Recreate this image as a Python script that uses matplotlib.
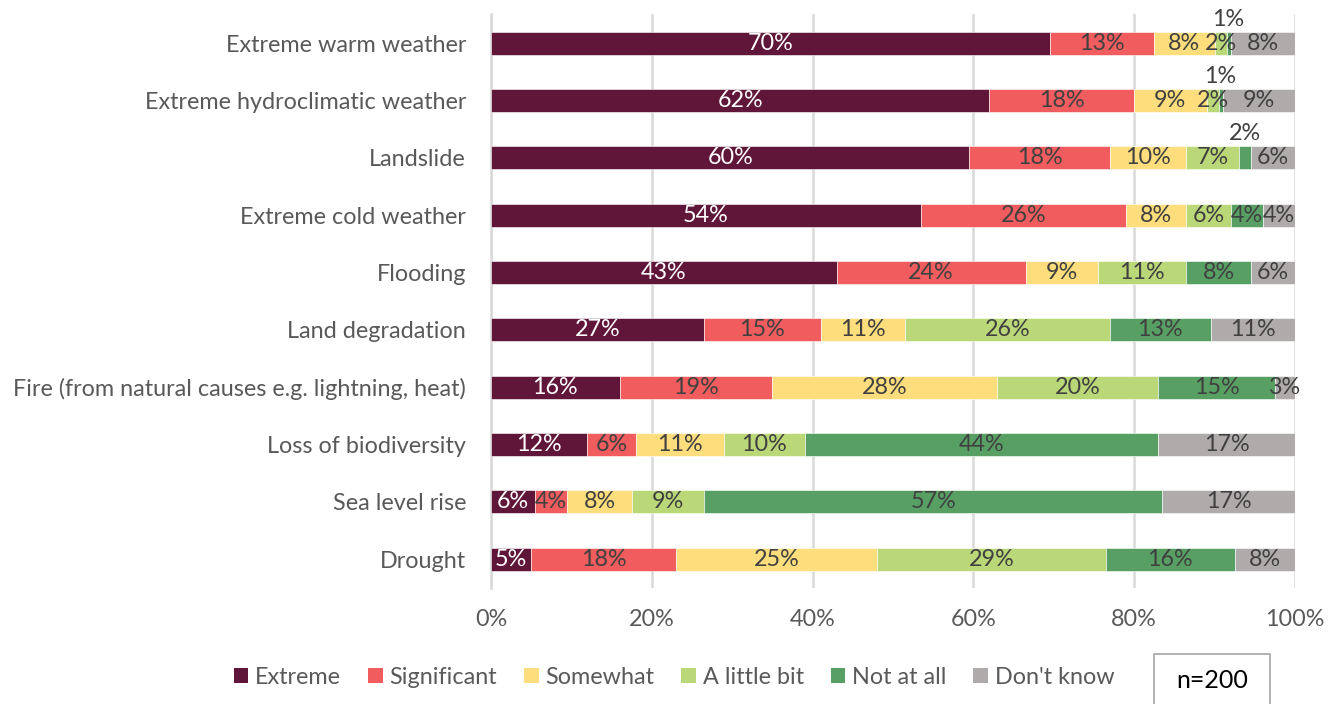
import numpy as np
import matplotlib
matplotlib.use("Agg")
import matplotlib.pyplot as plt
from matplotlib.patches import Patch, Rectangle

plt.rcParams['font.family'] = ['Lato', 'DejaVu Sans']

n = 200
categories = [
    "Extreme warm weather",
    "Extreme hydroclimatic weather",
    "Landslide",
    "Extreme cold weather",
    "Flooding",
    "Land degradation",
    "Fire (from natural causes e.g. lightning, heat)",
    "Loss of biodiversity",
    "Sea level rise",
    "Drought",
]

# respondent counts per answer (out of n)
extreme = [139, 124, 119, 107, 86, 53, 32, 24, 11, 10]
significant = [26, 36, 35, 51, 47, 29, 38, 12, 8, 36]
somewhat = [15, 18, 19, 15, 18, 21, 56, 22, 16, 50]
little_bit = [3, 3, 13, 11, 22, 51, 40, 20, 18, 57]
not_at_all = [1, 1, 3, 8, 16, 25, 29, 88, 114, 32]
dont_know = [16, 18, 11, 8, 11, 21, 5, 34, 33, 15]

series_names = ["Extreme", "Significant", "Somewhat", "A little bit", "Not at all", "Don't know"]
series = [extreme, significant, somewhat, little_bit, not_at_all, dont_know]
colors = ["#5F1639", "#F15C5E", "#FDDD7C", "#BBD878", "#589F63", "#AFABAB"]
text_colors = ["white", "#404040", "#404040", "#404040", "#404040", "#404040"]

# small segments whose label sits above the bar: (row, series index)
above = [(0, 4), (1, 4), (2, 4)]

fs = 16.8

fig = plt.figure(figsize=(13.35, 7.04), dpi=100)
ax = fig.add_axes([0.3678, 0.1652, 0.6022, 0.8143])

y = np.arange(len(categories))
left = np.zeros(len(categories))
for si, (name, vals, col, tcol) in enumerate(zip(series_names, series, colors, text_colors)):
    pct = np.array(vals) / n
    ax.barh(y, pct, left=left, height=0.4, color=col, edgecolor="white",
            linewidth=0.4, label=name, zorder=3)
    for i, v in enumerate(vals):
        txt = "{}%".format(int(v * 100 / n + 0.5))
        xc = left[i] + pct[i] / 2
        if (i, si) in above:
            ax.text(xc, y[i] - 0.42, txt, ha="center", va="center",
                    fontsize=fs, color="#404040", zorder=4)
        else:
            ax.text(xc, y[i], txt, ha="center", va="center",
                    fontsize=fs, color=tcol, zorder=4)
    left += pct

ax.set_xlim(0, 1)
ax.set_ylim(len(categories) - 0.5, -0.5)
ax.set_yticks(y)
ax.set_yticklabels(categories, fontsize=fs, color="#595959")
ax.set_xticks(np.linspace(0, 1, 6))
ax.set_xticklabels(["{:.0f}%".format(t * 100) for t in np.linspace(0, 1, 6)],
                   fontsize=fs, color="#595959")
ax.tick_params(axis="y", length=0, pad=18)
ax.tick_params(axis="x", length=0, pad=15)
ax.grid(axis="x", color="#D9D9D9", linewidth=1.8, zorder=0)
for s in ["top", "right", "bottom"]:
    ax.spines[s].set_visible(False)
ax.spines["left"].set_color("#D9D9D9")
ax.spines["left"].set_linewidth(1.8)

handles = [Patch(facecolor=c, label=nm) for nm, c in zip(series_names, colors)]
fig.legend(handles=handles, loc="center", bbox_to_anchor=(0.505, 0.038), ncol=6,
           frameon=False, fontsize=fs, handlelength=0.62, handleheight=0.62,
           handletextpad=0.3, columnspacing=1.15, labelcolor="#595959")

# sample size box
fig.patches.append(Rectangle((0.8644, -0.01), 0.0869, 0.081, transform=fig.transFigure,
                             facecolor="white", edgecolor="#A6A6A6", linewidth=1.2))
fig.text(0.908, 0.034, "n=200", ha="center", va="center", fontsize=18, color="black")

fig.savefig("out.png", dpi=100)
